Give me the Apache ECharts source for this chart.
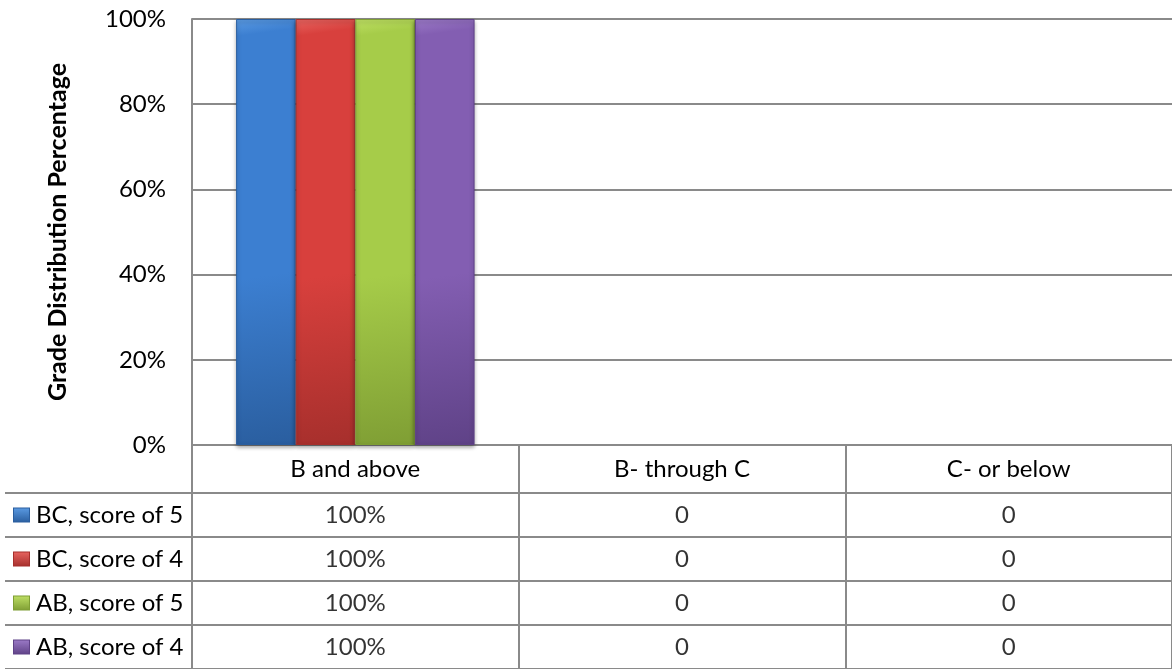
<!DOCTYPE html>
<html>
<head>
<meta charset="utf-8">
<script src="https://cdn.jsdelivr.net/npm/echarts@6/dist/echarts.min.js"></script>
<style>
  html, body { margin: 0; padding: 0; background: #fff; }
  #chart { width: 1172px; height: 669px; }
</style>
</head>
<body>
<div id="chart"></div>
<script>
  // data
  const categories = ['B and above', 'B- through C', 'C- or below'];
  const seriesNames = ['BC, score of 5', 'BC, score of 4', 'AB, score of 5', 'AB, score of 4'];
  const bcScore5 = [1, 0, 0];
  const bcScore4 = [1, 0, 0];
  const abScore5 = [1, 0, 0];
  const abScore4 = [1, 0, 0];
  const yTicks = [0, 0.2, 0.4, 0.6, 0.8, 1];

  const seriesValues = [bcScore5, bcScore4, abScore5, abScore4];
  // [light, main, dark]
  const palette = [
    ['#5b9be3', '#3c7fd1', '#2a5e9f'],
    ['#e86561', '#d8403d', '#a62f2c'],
    ['#bfe065', '#a6cc49', '#7f9e34'],
    ['#9c7bc8', '#835eb2', '#5f4287']
  ];
  const lineColor = '#8a8a8a';
  const font = 'Lato, "Open Sans", sans-serif';

  const bevel = (c) => ({
    type: 'linear', x: 0, y: 0, x2: 1, y2: 1,
    colorStops: [
      { offset: 0, color: c[0] },
      { offset: 0.04, color: c[1] },
      { offset: 0.6, color: c[1] },
      { offset: 1, color: c[2] }
    ]
  });
  const fmt = (v) => v === 0 ? '0' : Math.round(v * 100) + '%';

  const chart = echarts.init(document.getElementById('chart'));

  const barSeries = seriesValues.map((vals, i) => ({
    name: seriesNames[i],
    type: 'bar',
    xAxisIndex: 0,
    yAxisIndex: 0,
    data: vals.map(v => v === 0 ? { value: v, itemStyle: { opacity: 0 } } : v),
    barGap: '0%',
    barCategoryGap: '27%',
    itemStyle: {
      color: bevel(palette[i]),
      borderColor: palette[i][2],
      borderWidth: 1,
      shadowColor: 'rgba(0,0,0,0.35)',
      shadowBlur: 4,
      shadowOffsetY: 2
    },
    silent: true
  }));

  const cellSeries = seriesValues.map((vals, i) => ({
    name: seriesNames[i] + ' cells',
    type: 'scatter',
    xAxisIndex: 1,
    yAxisIndex: 1,
    symbolSize: 0,
    data: vals.map((v, j) => [j, i, v]),
    label: {
      show: true,
      position: 'inside',
      formatter: (p) => fmt(p.value[2]),
      color: '#000',
      fontFamily: font,
      fontSize: 24
    },
    silent: true
  }));

  const rich = {};
  palette.forEach((c, i) => {
    rich['sq' + i] = {
      width: 15, height: 13,
      backgroundColor: {
        type: 'linear', x: 0, y: 0, x2: 0, y2: 1,
        colorStops: [{ offset: 0, color: c[0] }, { offset: 1, color: c[2] }]
      },
      borderColor: c[2], borderWidth: 1
    };
  });
  rich.t = { fontFamily: font, fontSize: 24, color: '#000', padding: [0, 0, 0, 7] };

  chart.setOption({
    animation: false,
    textStyle: { fontFamily: font },
    grid: [
      { left: 192, right: -7, top: 19, height: 426 },
      { left: 192, right: -7, top: 493, height: 180 }
    ],
    xAxis: [
      {
        type: 'category',
        gridIndex: 0,
        data: categories,
        axisLine: { show: true, lineStyle: { color: lineColor, width: 2 } },
        axisTick: { show: true, length: 48, lineStyle: { color: lineColor, width: 2 } },
        axisLabel: {
          margin: 24, verticalAlign: 'middle',
          color: '#000', fontFamily: font, fontSize: 24
        }
      },
      {
        type: 'category',
        gridIndex: 1,
        position: 'top',
        data: categories,
        axisLine: { show: true, lineStyle: { color: lineColor, width: 2 } },
        axisTick: { show: false },
        axisLabel: { show: false },
        splitLine: { show: true, lineStyle: { color: lineColor, width: 2 } }
      }
    ],
    yAxis: [
      {
        type: 'value',
        gridIndex: 0,
        min: 0, max: 1, interval: 0.2,
        name: 'Grade Distribution Percentage',
        nameLocation: 'middle',
        nameRotate: 90,
        nameGap: 122,
        nameTextStyle: { fontFamily: font, fontWeight: 'bold', fontSize: 25, color: '#000' },
        axisLine: { show: true, lineStyle: { color: lineColor, width: 2 } },
        axisTick: { show: false },
        axisLabel: {
          margin: 26,
          color: '#000', fontFamily: font, fontSize: 24,
          formatter: (v) => yTicks.includes(Math.round(v * 10) / 10) ? Math.round(v * 100) + '%' : ''
        },
        splitLine: { show: true, lineStyle: { color: lineColor, width: 2 } }
      },
      {
        type: 'category',
        gridIndex: 1,
        inverse: true,
        data: seriesNames,
        axisLine: { show: true, lineStyle: { color: lineColor, width: 2 } },
        axisTick: { show: true, length: 187, lineStyle: { color: lineColor, width: 2 } },
        axisLabel: {
          align: 'left',
          margin: 178,
          formatter: (v) => '{sq' + seriesNames.indexOf(v) + '|}{t|' + v + '}',
          rich: rich
        },
        splitLine: { show: true, lineStyle: { color: lineColor, width: 2 } }
      },
      {
        type: 'category',
        gridIndex: 1,
        inverse: true,
        data: seriesNames,
        offset: 187,
        axisLine: { show: true, lineStyle: { color: lineColor, width: 2 } },
        axisTick: { show: false },
        axisLabel: { show: false }
      }
    ],
    series: barSeries.concat(cellSeries)
  });
</script>
</body>
</html>
